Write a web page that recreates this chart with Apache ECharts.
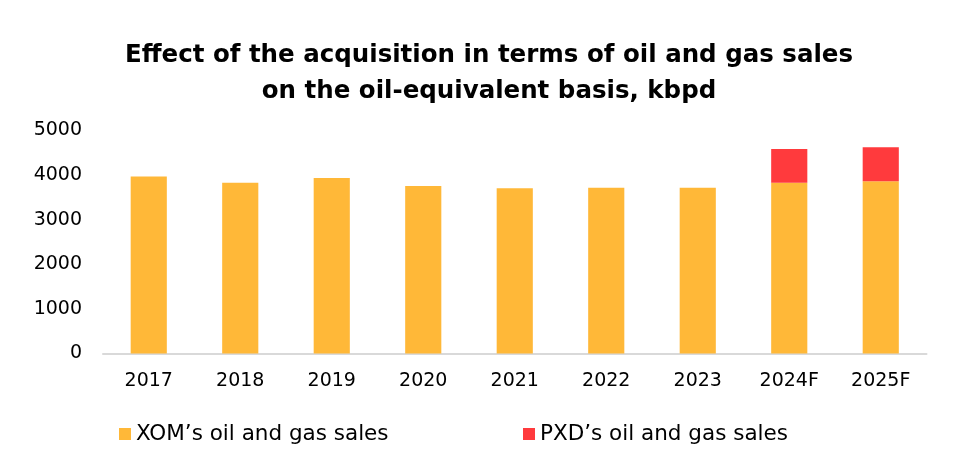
<!DOCTYPE html>
<html>
<head>
<meta charset="utf-8">
<script src="https://cdn.jsdelivr.net/npm/echarts@6/dist/echarts.min.js"></script>
<style>html,body{margin:0;padding:0;background:#fff}#c{width:974px;height:465px}</style>
</head>
<body>
<div id="c"></div>
<script>
const categories = ['2017','2018','2019','2020','2021','2022','2023','2024F','2025F'];
const xomSales = [3970, 3830, 3935, 3756, 3704, 3717, 3717, 3830, 3861];
const pxdSales = [null, null, null, null, null, null, null, 755, 762];
const yTicks = [0, 1000, 2000, 3000, 4000, 5000];
const titleText = 'Effect of the acquisition in terms of oil and gas sales\non the oil-equivalent basis, kbpd';
const seriesNames = ['XOM\u2019s oil and gas sales', 'PXD\u2019s oil and gas sales'];

const FONT = 'DejaVu Sans';
const chart = echarts.init(document.getElementById('c'));
chart.setOption({
  animation: false,
  backgroundColor: '#fff',
  title: {
    text: titleText,
    left: 484, top: 33, textAlign: 'center',
    textStyle: { fontFamily: FONT, fontWeight: 'bold', fontSize: 24.5, color: '#000', lineHeight: 36 }
  },
  legend: [
    { data: [seriesNames[0]], left: 114, top: 418, itemWidth: 12, itemHeight: 12, itemGap: 7,
      textStyle: { fontFamily: FONT, fontSize: 21.5, color: '#000' }, icon: 'rect' },
    { data: [seriesNames[1]], left: 518, top: 418, itemWidth: 12, itemHeight: 12, itemGap: 7,
      textStyle: { fontFamily: FONT, fontSize: 21.5, color: '#000' }, icon: 'rect' }
  ],
  grid: { left: 103, right: 47.5, top: 130.5, bottom: 111.5, containLabel: false },
  xAxis: {
    type: 'category', data: categories,
    axisLine: { lineStyle: { color: '#d9d9d9', width: 2 } },
    axisTick: { show: false },
    axisLabel: { fontFamily: FONT, fontSize: 19, color: '#000', margin: 18 }
  },
  yAxis: {
    type: 'value', min: yTicks[0], max: yTicks[yTicks.length - 1], interval: 1000,
    axisLine: { show: false }, axisTick: { show: false }, splitLine: { show: false },
    axisLabel: { fontFamily: FONT, fontSize: 19, color: '#000', margin: 21, formatter: v => String(v) }
  },
  series: [
    { name: seriesNames[0], type: 'bar', stack: 's', data: xomSales, barWidth: '39.5%',
      itemStyle: { color: '#FFB838' } },
    { name: seriesNames[1], type: 'bar', stack: 's', data: pxdSales, barWidth: '39.5%',
      itemStyle: { color: '#FF3A3D' } }
  ]
});
</script>
</body>
</html>
